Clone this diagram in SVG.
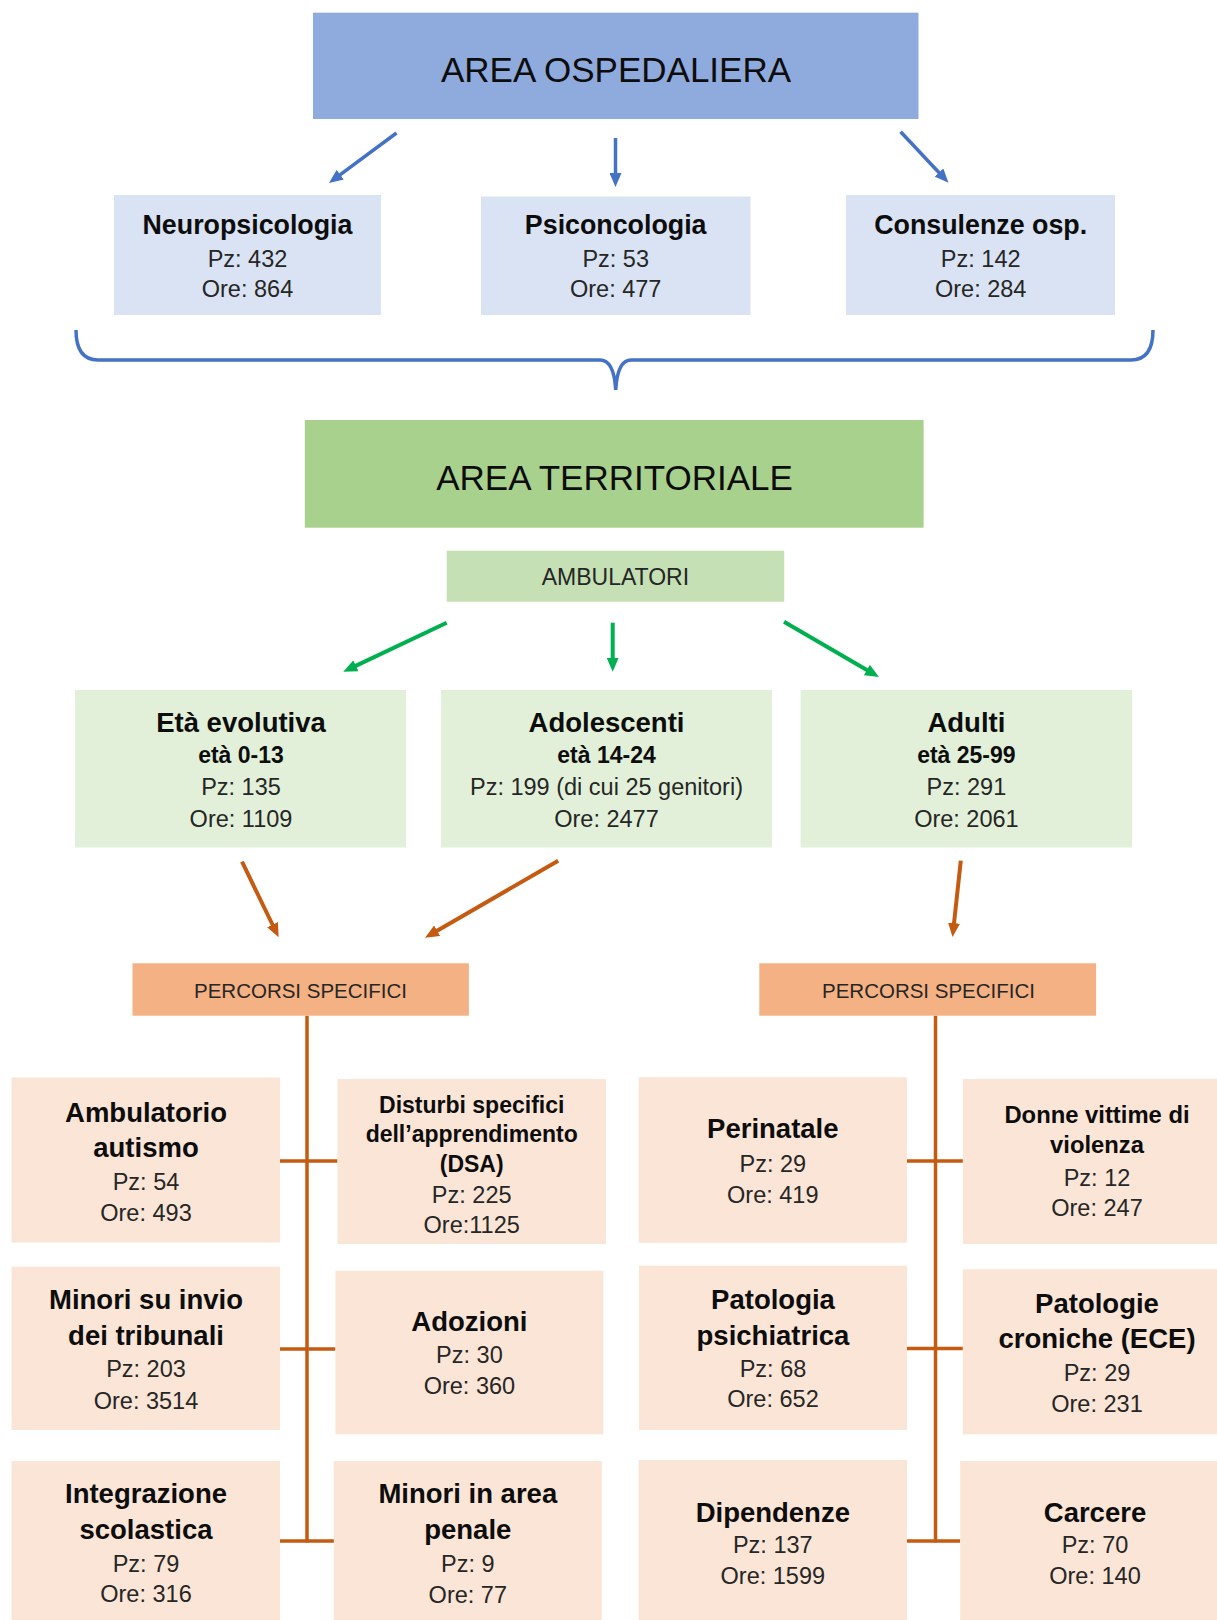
<svg xmlns="http://www.w3.org/2000/svg" width="1217" height="1620" viewBox="0 0 1217 1620">
<style>
text{font-family:"Liberation Sans",Arial,sans-serif;text-anchor:middle;fill:#262626}
.big{font-size:35px;fill:#0d0d0d}
.t26{font-size:26.8px;font-weight:bold;fill:#0d0d0d}
.t27{font-size:27.5px;font-weight:bold;fill:#0d0d0d}
.t23b{font-size:23.8px;font-weight:bold;fill:#0d0d0d}
.t22b{font-size:23px;font-weight:bold;fill:#0d0d0d}
.r{font-size:23.5px}
.lbl{font-size:20.5px}
.amb{font-size:23px}
.blue1{fill:#8FAADC}
.blue2{fill:#DAE3F3}
.green1{fill:#A9D18E}
.green2{fill:#C5E0B4}
.green3{fill:#E2F0D9}
.or1{fill:#F4B183}
.or2{fill:#FBE5D6}
.ab{stroke:#4472C4;stroke-width:3.5;fill:none}
.ag{stroke:#00B050;stroke-width:4;fill:none}
.ao{stroke:#C55A11;stroke-width:4;fill:none}
.ln{stroke:#C55A11;stroke-width:3.5;fill:none}
</style>
<defs>
<marker id="mb" viewBox="0 0 14 12" refX="2" refY="6" markerWidth="14" markerHeight="12" markerUnits="userSpaceOnUse" orient="auto"><path d="M0,0 L14,6 L0,12 z" fill="#4472C4"/></marker>
<marker id="mg" viewBox="0 0 14 12" refX="2" refY="6" markerWidth="14" markerHeight="12" markerUnits="userSpaceOnUse" orient="auto"><path d="M0,0 L14,6 L0,12 z" fill="#00B050"/></marker>
<marker id="mo" viewBox="0 0 14 12" refX="2" refY="6" markerWidth="14" markerHeight="12" markerUnits="userSpaceOnUse" orient="auto"><path d="M0,0 L14,6 L0,12 z" fill="#C55A11"/></marker>
</defs>
<rect width="1217" height="1620" fill="#ffffff"/>

<g id="connectors">
<line class="ab" x1="396.5" y1="133" x2="338.6" y2="175.9" marker-end="url(#mb)"/>
<line class="ab" x1="615.5" y1="138" x2="615.5" y2="175" marker-end="url(#mb)"/>
<line class="ab" x1="900.6" y1="131.7" x2="940.3" y2="174" marker-end="url(#mb)"/>
<path class="ab" stroke-width="3" d="M76,330 Q76,360 98,360 L600,360 Q614,360 615.7,390 Q617.5,360 631,360 L1131,360 Q1153,360 1153,330"/>
<line class="ag" x1="446.7" y1="622.7" x2="354.1" y2="666.6" marker-end="url(#mg)"/>
<line class="ag" x1="612.7" y1="622.7" x2="612.7" y2="659.7" marker-end="url(#mg)"/>
<line class="ag" x1="784" y1="621.7" x2="868.6" y2="671" marker-end="url(#mg)"/>
<line class="ao" x1="242" y1="861.7" x2="273.4" y2="926.5" marker-end="url(#mo)"/>
<line class="ao" x1="558.2" y1="860.7" x2="435.4" y2="931.7" marker-end="url(#mo)"/>
<line class="ao" x1="960.8" y1="860.6" x2="953.8" y2="925.1" marker-end="url(#mo)"/>
<line class="ln" x1="307" y1="1015.7" x2="307" y2="1542.5"/>
<line class="ln" x1="280" y1="1161" x2="337.5" y2="1161"/>
<line class="ln" x1="280" y1="1349" x2="335.4" y2="1349"/>
<line class="ln" x1="280" y1="1541" x2="334" y2="1541"/>
<line class="ln" x1="935.5" y1="1015.7" x2="935.5" y2="1542.5"/>
<line class="ln" x1="907" y1="1161" x2="963" y2="1161"/>
<line class="ln" stroke-width="6" x1="907" y1="1348.5" x2="963" y2="1348.5"/>
<line class="ln" x1="907" y1="1541" x2="960.2" y2="1541"/>
</g>

<g id="area-ospedaliera"><rect class="blue1" x="313" y="12.7" width="605.5" height="106.3"/><text class="big" x="616" y="81.5">AREA OSPEDALIERA</text></g>
<g id="neuropsicologia"><rect class="blue2" x="114" y="195" width="267" height="120"/><text class="t26" x="247.5" y="233.5">Neuropsicologia</text><text class="r" x="247.5" y="266.7">Pz: 432</text><text class="r" x="247.5" y="297">Ore: 864</text></g>
<g id="psiconcologia"><rect class="blue2" x="481" y="196.5" width="269.5" height="118.5"/><text class="t26" x="615.7" y="233.5">Psiconcologia</text><text class="r" x="615.7" y="266.7">Pz: 53</text><text class="r" x="615.7" y="297">Ore: 477</text></g>
<g id="consulenze"><rect class="blue2" x="846" y="195" width="269" height="120"/><text class="t26" x="980.7" y="233.5">Consulenze osp.</text><text class="r" x="980.7" y="266.7">Pz: 142</text><text class="r" x="980.7" y="297">Ore: 284</text></g>

<g id="area-territoriale"><rect class="green1" x="304.8" y="420" width="618.8" height="107.7"/><text class="big" x="614.5" y="489.8">AREA TERRITORIALE</text></g>
<g id="ambulatori"><rect class="green2" x="446.7" y="550.7" width="337.5" height="51"/><text class="amb" x="615.4" y="585">AMBULATORI</text></g>

<g id="eta-evolutiva"><rect class="green3" x="75" y="690" width="331" height="157.5"/><text class="t27" x="241" y="731.7">Età evolutiva</text><text class="t22b" x="241" y="763.3">età 0-13</text><text class="r" x="241" y="795">Pz: 135</text><text class="r" x="241" y="826.7">Ore: 1109</text></g>
<g id="adolescenti"><rect class="green3" x="441" y="690" width="331" height="157.5"/><text class="t27" x="606.5" y="731.7">Adolescenti</text><text class="t22b" x="606.5" y="763.3">età 14-24</text><text class="r" x="606.5" y="795">Pz: 199 (di cui 25 genitori)</text><text class="r" x="606.5" y="826.7">Ore: 2477</text></g>
<g id="adulti"><rect class="green3" x="800.6" y="690" width="331.6" height="157.5"/><text class="t27" x="966.4" y="731.7">Adulti</text><text class="t22b" x="966.4" y="763.3">età 25-99</text><text class="r" x="966.4" y="795">Pz: 291</text><text class="r" x="966.4" y="826.7">Ore: 2061</text></g>

<g id="percorsi-sx"><rect class="or1" x="132.5" y="963.3" width="336.4" height="52.4"/><text class="lbl" x="300.5" y="998.3">PERCORSI SPECIFICI</text></g>
<g id="percorsi-dx"><rect class="or1" x="759.3" y="963.3" width="336.8" height="52.4"/><text class="lbl" x="928.5" y="998.3">PERCORSI SPECIFICI</text></g>

<g id="ambulatorio-autismo"><rect class="or2" x="11.5" y="1077.5" width="268.5" height="165"/><text class="t27" x="146" y="1121.7">Ambulatorio</text><text class="t27" x="146" y="1157.3">autismo</text><text class="r" x="146" y="1190">Pz: 54</text><text class="r" x="146" y="1221">Ore: 493</text></g>
<g id="dsa"><rect class="or2" x="337.5" y="1079" width="268.5" height="165"/><text class="t22b" x="471.7" y="1113.3">Disturbi specifici</text><text class="t22b" x="471.7" y="1141.7">dell’apprendimento</text><text class="t22b" x="471.7" y="1171.7">(DSA)</text><text class="r" x="471.7" y="1202.7">Pz: 225</text><text class="r" x="471.7" y="1233.3">Ore:1125</text></g>
<g id="minori-tribunali"><rect class="or2" x="11.5" y="1266.7" width="268.5" height="163.3"/><text class="t27" x="146" y="1309.3">Minori su invio</text><text class="t27" x="146" y="1345">dei tribunali</text><text class="r" x="146" y="1377.3">Pz: 203</text><text class="r" x="146" y="1409">Ore: 3514</text></g>
<g id="adozioni"><rect class="or2" x="335.4" y="1270.7" width="268" height="163.6"/><text class="t27" x="469.4" y="1330.7">Adozioni</text><text class="r" x="469.4" y="1363.3">Pz: 30</text><text class="r" x="469.4" y="1394">Ore: 360</text></g>
<g id="integrazione"><rect class="or2" x="11.5" y="1461" width="268.5" height="160"/><text class="t27" x="146" y="1503.3">Integrazione</text><text class="t27" x="146" y="1539">scolastica</text><text class="r" x="146" y="1571.7">Pz: 79</text><text class="r" x="146" y="1602.3">Ore: 316</text></g>
<g id="minori-penale"><rect class="or2" x="333.8" y="1461" width="268" height="160"/><text class="t27" x="467.8" y="1503.3">Minori in area</text><text class="t27" x="467.8" y="1539">penale</text><text class="r" x="467.8" y="1571.7">Pz: 9</text><text class="r" x="467.8" y="1603">Ore: 77</text></g>

<g id="perinatale"><rect class="or2" x="638.6" y="1077.3" width="268.4" height="165.4"/><text class="t27" x="772.8" y="1138.3">Perinatale</text><text class="r" x="772.8" y="1171.7">Pz: 29</text><text class="r" x="772.8" y="1202.7">Ore: 419</text></g>
<g id="donne"><rect class="or2" x="962.8" y="1079" width="270" height="165"/><text class="t23b" x="1097" y="1123.3">Donne vittime di</text><text class="t23b" x="1097" y="1153.3">violenza</text><text class="r" x="1097" y="1186">Pz: 12</text><text class="r" x="1097" y="1216">Ore: 247</text></g>
<g id="patologia-psichiatrica"><rect class="or2" x="639" y="1265.7" width="268" height="164.3"/><text class="t27" x="773" y="1309.3">Patologia</text><text class="t27" x="773" y="1345">psichiatrica</text><text class="r" x="773" y="1376.7">Pz: 68</text><text class="r" x="773" y="1407.3">Ore: 652</text></g>
<g id="patologie-croniche"><rect class="or2" x="962.7" y="1269.3" width="270" height="165"/><text class="t27" x="1097" y="1312.7">Patologie</text><text class="t27" x="1097" y="1348.3">croniche (ECE)</text><text class="r" x="1097" y="1380.7">Pz: 29</text><text class="r" x="1097" y="1411.7">Ore: 231</text></g>
<g id="dipendenze"><rect class="or2" x="638.6" y="1460" width="268.4" height="161"/><text class="t27" x="772.8" y="1521.7">Dipendenze</text><text class="r" x="772.8" y="1553.3">Pz: 137</text><text class="r" x="772.8" y="1584.3">Ore: 1599</text></g>
<g id="carcere"><rect class="or2" x="960.2" y="1461" width="270" height="160"/><text class="t27" x="1095" y="1521.7">Carcere</text><text class="r" x="1095" y="1553.3">Pz: 70</text><text class="r" x="1095" y="1584.3">Ore: 140</text></g>
</svg>
